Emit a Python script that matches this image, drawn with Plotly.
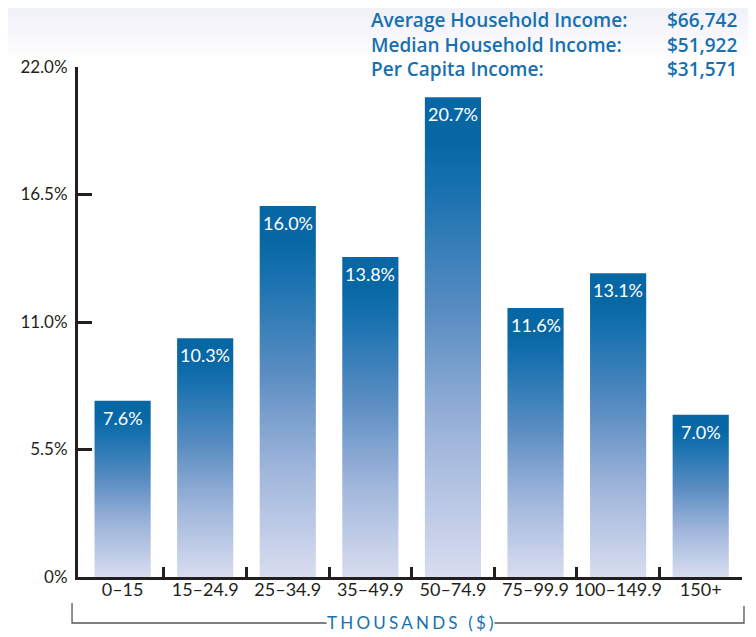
import plotly.graph_objects as go

categories = ["0–15", "15–24.9", "25–34.9", "35–49.9", "50–74.9", "75–99.9", "100–149.9", "150+"]
shares = [7.6, 10.3, 16.0, 13.8, 20.7, 11.6, 13.1, 7.0]
y_ticks = [0, 5.5, 11.0, 16.5, 22.0]
y_tick_labels = ["0%", "5.5%", "11.0%", "16.5%", "22.0%"]
summary_labels = ["Average Household Income:", "Median Household Income:", "Per Capita Income:"]
summary_values = ["$66,742", "$51,922", "$31,571"]
x_title = "THOUSANDS ($)"

FONT = "Lato"
DARK = "#231f20"
BLUE = "#1770b0"
HALF = 0.34
scale = [[0, "#d8ddf0"], [0.3, "#9db4da"], [0.55, "#5a8dc2"], [0.8, "#1a72b0"],
         [0.9, "#0868a6"], [1, "#0767a5"]]

# page offset (browser body margin)
OFF = 8
W, H = 756 - OFF, 637 - OFF
L, R, T, B = 74 - OFF, 14, 67 - OFF, 637 - 577
PW, PH = W - L - R, H - T - B


def px(x):
    return (x - OFF - L) / PW


def py(y):
    return (H - (y - OFF) - B) / PH


fig = go.Figure()

# gradient bars
for i, v in enumerate(shares):
    fig.add_trace(go.Scatter(
        x=[i - HALF, i - HALF, i + HALF, i + HALF, i - HALF],
        y=[0, v, v, 0, 0],
        mode="lines", line=dict(width=0), fill="toself",
        fillgradient=dict(type="vertical", colorscale=scale, start=0, stop=v),
        hoverinfo="skip", showlegend=False, xaxis="x2",
    ))

# category labels axis
fig.add_trace(go.Scatter(x=list(range(len(categories))), y=[0] * len(categories),
                         mode="markers", marker=dict(opacity=0), showlegend=False, hoverinfo="skip"))

# value labels
for i, v in enumerate(shares):
    fig.add_annotation(xref="x2", yref="y", x=i, y=v, text=f"{v:.1f}%", showarrow=False,
                       xanchor="center", yanchor="top", yshift=-4,
                       font=dict(family=FONT, size=18, color="white"))

xr = [-0.54, len(categories) - 0.5]
fig.update_layout(
    width=W, height=H,
    margin=dict(l=L, r=R, t=T, b=B),
    paper_bgcolor="white", plot_bgcolor="rgba(0,0,0,0)",
    font=dict(family=FONT, color=DARK),
    xaxis=dict(range=xr, tickvals=list(range(len(categories))), ticktext=categories,
               ticks="", showline=False, showgrid=False, zeroline=False,
               tickfont=dict(family=FONT, size=18, color=DARK), fixedrange=True),
    xaxis2=dict(range=xr, overlaying="x", anchor="y",
                tickvals=[i + 0.5 for i in range(len(categories))],
                ticks="inside", ticklen=10, tickwidth=2.5, tickcolor=DARK,
                showticklabels=False, showline=True, linewidth=2.5, linecolor=DARK,
                showgrid=False, zeroline=False),
    yaxis=dict(range=[0, 22], tickvals=y_ticks, ticktext=y_tick_labels,
               ticks="inside", ticklen=14, tickwidth=2.5, tickcolor=DARK,
               showline=True, linewidth=3, linecolor=DARK, showgrid=False, zeroline=False,
               tickfont=dict(family=FONT, size=17, color=DARK), ticklabelstandoff=4),
)

# faint top background glow
for k in range(8):
    fig.add_shape(type="rect", xref="paper", yref="paper", layer="below",
                  x0=-0.2, x1=1.2, y0=py(8 + 7 * k), y1=py(-20),
                  fillcolor="rgba(195,205,220,0.04)", line=dict(width=0))

# summary block
sfont = dict(family="Open Sans", size=19, color=BLUE, weight=600)
fig.add_annotation(xref="paper", yref="paper", x=px(367), y=py(45),
                   text="<br>".join(summary_labels), showarrow=False, align="left",
                   xanchor="left", yanchor="middle", font=sfont)
fig.add_annotation(xref="paper", yref="paper", x=px(739), y=py(45),
                   text="<br>".join(summary_values), showarrow=False, align="right",
                   xanchor="right", yanchor="middle", font=sfont)

# x title with bracket
spaced = "\u2009\u200a".join(list(x_title))
fig.add_annotation(xref="paper", yref="paper", x=px(409), y=py(622), text=spaced,
                   showarrow=False, xanchor="center", yanchor="middle",
                   font=dict(family=FONT, size=17, color=BLUE))
line = dict(color="#555", width=1.3)
fig.add_shape(type="path", xref="paper", yref="paper",
              path=f"M {px(68)} {py(603)} L {px(68)} {py(623)} L {px(324)} {py(623)}", line=line)
fig.add_shape(type="path", xref="paper", yref="paper",
              path=f"M {px(493)} {py(623)} L {px(744)} {py(623)} L {px(744)} {py(606)}", line=line)

fig.write_html("out.html")
